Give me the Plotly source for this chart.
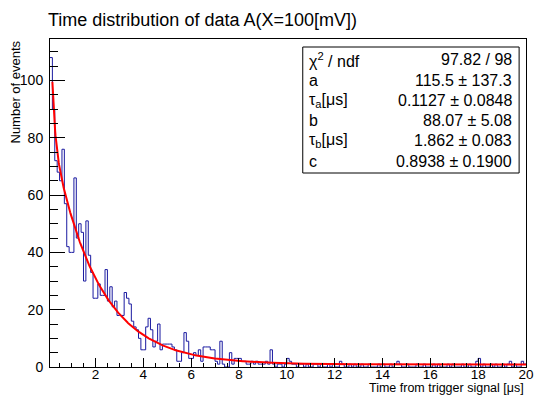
import numpy as np
import plotly.graph_objects as go

# ---------------- data ----------------
BIN_LOW = 0.1      # lower edge of first bin [us]
BIN_WIDTH = 0.1    # bin width [us]
counts = [
    108, 90, 72, 68, 65, 76, 57, 42, 40, 40,
    66, 45, 50, 47, 30, 51, 39, 33, 24, 24,
    29, 25, 25, 34, 23, 28, 21, 23, 18, 18,
    18, 26, 24, 22, 16, 14, 13, 10, 6, 6,
    14, 17, 13, 7, 9, 15, 6, 8, 8, 8,
    8, 7, 6, 2, 2, 5, 12, 9, 3, 3,
    5, 4, 6, 2, 7, 7, 7, 6, 6, 2,
    1, 9, 1, 0, 0, 5, 1, 3, 3, 3,
    2, 2, 1, 1, 2, 1, 2, 1, 1, 1,
    2, 1, 6, 1, 0, 1, 1, 0, 1, 3,
    2, 1,
    1, 0, 1, 1, 0, 1, 0, 0, 1, 1,
    0, 1, 0, 0, 1, 0, 1, 0, 0, 2,
    1, 0, 0, 1, 0, 1, 0, 0, 1, 0,
    0, 1, 0, 0, 0, 1, 0, 1, 0, 0,
    1, 0, 1, 2, 1, 0, 0, 1, 0, 0,
    0, 1, 0, 0, 1, 0, 0, 0, 1, 0,
    1, 0, 0, 0, 1, 0, 1, 0, 0, 0,
    1, 0, 0, 1, 0, 0, 2, 3, 0, 1,
    0, 0, 1, 0, 1, 0, 0, 1, 0, 1,
    2, 0, 1, 0, 0, 2, 1,
]

# fit result shown in the stats box: a*exp(-t/tau_a) + b*exp(-t/tau_b) + c
fit_a = 115.5
fit_tau_a = 0.1127
fit_b = 88.07
fit_tau_b = 1.862
fit_c = 0.8938
FIT_RANGE = [0.2, 20.0]

stats_labels = ["χ<sup>2</sup> / ndf", "a", "τ<sub>a</sub>[μs]", "b", "τ<sub>b</sub>[μs]", "c"]
stats_values = ["97.82 / 98", "115.5 ± 137.3", "0.1127 ± 0.0848",
                "88.07 ± 5.08", "1.862 ± 0.083", "0.8938 ± 0.1900"]

TITLE = "Time distribution of data A(X=100[mV])"
X_TITLE = "Time from trigger signal [μs]"
Y_TITLE = "Number of events"

# ---------------- derived ----------------
n = len(counts)
edges = BIN_LOW + BIN_WIDTH * np.arange(n + 1)
x_max = float(edges[-1])
step_x = list(edges[:-1]) + [edges[-1]]
step_y = list(counts) + [counts[-1]]

t = np.linspace(FIT_RANGE[0], FIT_RANGE[1], 1200)
fit_y = fit_a * np.exp(-t / fit_tau_a) + fit_b * np.exp(-t / fit_tau_b) + fit_c

y_max = 1.06 * max(counts)

FONT = "Liberation Sans, Arial, Helvetica, sans-serif"

fig = go.Figure()
fig.add_trace(go.Scatter(x=step_x, y=step_y, mode="lines",
                         line=dict(color="#1a1aa0", width=1, shape="hv"),
                         hoverinfo="skip"))
fig.add_trace(go.Scatter(x=t, y=fit_y, mode="lines",
                         line=dict(color="#ff0000", width=2),
                         hoverinfo="skip"))

W, H = 542, 396
ML, MR, MT, MB = 50, 8, 39, 29
PW, PH = W - ML - MR, H - MT - MB

def px_to_paper_x(px):
    return (px - ML) / PW

def px_to_paper_y(py):
    return (H - MB - py) / PH

fig.update_layout(
    width=W, height=H,
    margin=dict(l=ML, r=MR, t=MT, b=MB, pad=0),
    paper_bgcolor="white", plot_bgcolor="white",
    showlegend=False,
    font=dict(family=FONT, color="black", size=14),
    title=dict(text=TITLE, xref="container", yref="container",
               x=48 / W, xanchor="left", y=1 - 20 / H, yanchor="middle",
               font=dict(family=FONT, size=18, color="black")),
    xaxis=dict(range=[BIN_LOW, x_max], tickmode="linear", tick0=0, dtick=2,
               ticks="inside", ticklen=9, tickwidth=1, tickcolor="black",
               showline=True, mirror=True, linecolor="black", linewidth=1,
               showgrid=False, zeroline=False, ticklabelstandoff=-5,
               tickfont=dict(size=13.5),
               minor=dict(ticks="inside", ticklen=4.5, tickwidth=1, tickcolor="black",
                          tick0=0, dtick=0.5, showgrid=False)),
    yaxis=dict(range=[0, y_max], tickmode="linear", tick0=0, dtick=20,
               ticks="inside", ticklen=15, tickwidth=1, tickcolor="black",
               showline=True, mirror=True, linecolor="black", linewidth=1,
               showgrid=False, zeroline=False, ticklabelstandoff=3,
               tickfont=dict(size=14),
               minor=dict(ticks="inside", ticklen=7.5, tickwidth=1, tickcolor="black",
                          tick0=0, dtick=5, showgrid=False)),
)

# stats box
box_l, box_r, box_t, box_b = 307, 527, 47, 173
fig.add_shape(type="rect", xref="paper", yref="paper",
              x0=px_to_paper_x(box_l), x1=px_to_paper_x(box_r),
              y0=px_to_paper_y(box_b), y1=px_to_paper_y(box_t),
              line=dict(color="black", width=1), fillcolor="white", layer="above")
row_h = 20.2
for i, (lab, val) in enumerate(zip(stats_labels, stats_values)):
    yc = px_to_paper_y(box_t + 13 + row_h * i)
    fig.add_annotation(x=px_to_paper_x(box_l + 4), y=yc, xref="paper", yref="paper",
                       text=lab, showarrow=False, xanchor="left", yanchor="middle",
                       font=dict(family=FONT, size=16, color="black"))
    fig.add_annotation(x=px_to_paper_x(box_r - 5), y=yc, xref="paper", yref="paper",
                       text=val, showarrow=False, xanchor="right", yanchor="middle",
                       font=dict(family=FONT, size=16, color="black"))

# axis titles (ROOT style: aligned to axis end)
fig.add_annotation(x=1, y=0, xref="paper", yref="paper", text=X_TITLE,
                   showarrow=False, xanchor="right", yanchor="middle", yshift=-21,
                   font=dict(family=FONT, size=12.5, color="black"))
fig.add_annotation(x=0, y=1, xref="paper", yref="paper", text=Y_TITLE,
                   showarrow=False, xanchor="center", yanchor="top", xshift=-35,
                   textangle=-90, font=dict(family=FONT, size=13, color="black"))

fig.write_html("out.html")
